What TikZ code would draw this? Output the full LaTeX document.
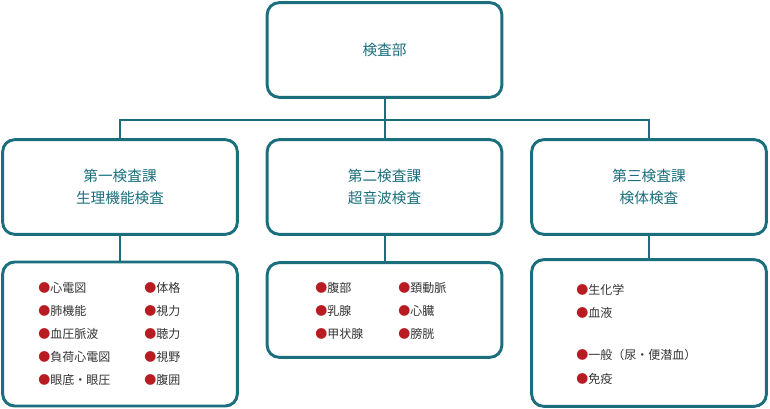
\documentclass[tikz,border=0pt]{standalone}
\usepackage{fontspec}
\setmainfont{Noto Sans CJK JP}
\usetikzlibrary{positioning}
\definecolor{teal1}{HTML}{1B6F7D}
\definecolor{bul}{HTML}{B81C22}
\definecolor{txt}{HTML}{333333}
\tikzset{
  box/.style={draw=teal1,line width=2.2pt,rounded corners=9pt,fill=white,inner sep=0pt},
  head/.style={text=teal1,font=\fontsize{11pt}{16pt}\selectfont,align=center},
  item/.style={anchor=west,text=txt,font=\fontsize{9pt}{11pt}\selectfont,inner sep=0pt},
  link/.style={draw=teal1,line width=1.5pt}
}
\newcommand{\bl}{\textcolor{bul}{●}}
\begin{document}
\begin{tikzpicture}[x=0.75pt,y=-0.75pt]
  \useasboundingbox (0,0) rectangle (770,409);
  % Boxes
  \node[box,minimum width=176pt,minimum height=71pt] (top) at (384.5,50) {};
  \node[head] at (top) {検査部};
  \node[box,minimum width=176pt,minimum height=71pt] (k1) at (120,187) {};
  \node[head] at (k1) {第一検査課\\生理機能検査};
  \node[box,minimum width=176pt,minimum height=71pt] (k2) at (384.5,187) {};
  \node[head] at (k2) {第二検査課\\超音波検査};
  \node[box,minimum width=176pt,minimum height=71pt] (k3) at (649,187) {};
  \node[head] at (k3) {第三検査課\\検体検査};
  \node[box,minimum width=176pt,minimum height=108pt] (b1) at (120,334) {};
  \node[box,minimum width=176pt,minimum height=71pt] (b2) at (384.5,310) {};
  \node[box,minimum width=176pt,minimum height=110pt] (b3) at (649,333) {};

  % Connectors
  \coordinate (j) at (384.5,120);
  \draw[link] (top.south) -- (j);
  \draw[link] (k1.north) |- (j) -| (k3.north);
  \draw[link] (j) -- (k2.north);
  \draw[link] (k1.south) -- (b1.north);
  \draw[link] (k2.south) -- (b2.north);
  \draw[link] (k3.south) -- (b3.north);

  % Items
  \node[item] at (38,288) {\bl 心電図};
  \node[item] at (38,311) {\bl 肺機能};
  \node[item] at (38,334) {\bl 血圧脈波};
  \node[item] at (38,357) {\bl 負荷心電図};
  \node[item] at (38,380) {\bl 眼底・眼圧};
  \node[item] at (144,288) {\bl 体格};
  \node[item] at (144,311) {\bl 視力};
  \node[item] at (144,334) {\bl 聴力};
  \node[item] at (144,357) {\bl 視野};
  \node[item] at (144,380) {\bl 腹囲};
  \node[item] at (315,288) {\bl 腹部};
  \node[item] at (315,311) {\bl 乳腺};
  \node[item] at (315,334) {\bl 甲状腺};
  \node[item] at (398,288) {\bl 頚動脈};
  \node[item] at (398,311) {\bl 心臓};
  \node[item] at (398,334) {\bl 膀胱};
  \node[item] at (576,290) {\bl 生化学};
  \node[item] at (576,313) {\bl 血液};
  \node[item] at (576,355) {\bl 一般（尿・便潜血）};
  \node[item] at (576,379) {\bl 免疫};
\end{tikzpicture}
\end{document}
